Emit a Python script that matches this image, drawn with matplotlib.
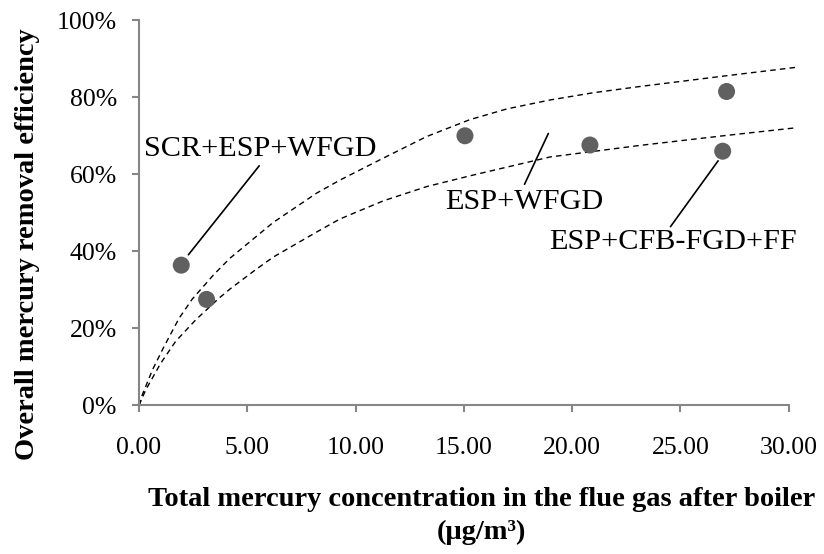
import matplotlib
matplotlib.use('Agg')
import matplotlib.pyplot as plt
from matplotlib.ticker import FuncFormatter

plt.rcParams['font.family'] = ['Liberation Serif', 'DejaVu Serif']

# measured plants: Hg in flue gas (ug/m3) vs overall removal (%)
hg_conc = [1.95, 3.12, 15.05, 20.82, 27.13, 26.95]
removal = [36.4, 27.5, 70.0, 67.6, 81.5, 66.0]

# dashed trend curves
upper_x = [0.0, 0.15, 0.62, 1.15, 1.85, 2.46, 3.46, 4.2, 6.2, 8.2, 9.28, 11.28,
           13.28, 15.28, 17.0, 18.98, 21.0, 23.13, 27.13, 30.37]
upper_y = [0.0, 2.7, 9.2, 15.2, 22.6, 27.6, 34.0, 38.2, 47.5, 55.1, 58.5, 64.2,
           69.8, 74.2, 77.0, 79.3, 81.2, 82.8, 85.6, 87.8]
lower_x = [0.0, 0.31, 1.0, 1.69, 2.62, 3.69, 4.2, 5.38, 6.2, 8.2, 9.28, 11.28,
           13.28, 15.28, 18.98, 23.13, 27.13, 30.37]
lower_y = [0.0, 4.0, 10.9, 16.6, 22.2, 27.8, 30.2, 35.2, 38.5, 45.0, 48.4, 53.1,
           56.8, 59.6, 64.5, 67.5, 70.1, 72.1]

x_ticks = [0, 5, 10, 15, 20, 25, 30]
y_ticks = [0, 20, 40, 60, 80, 100]

grey = '#868686'

fig = plt.figure(figsize=(8.24, 5.54), dpi=100)
ax = fig.add_axes([0.1687, 0.2684, 0.9572 - 0.1687, 0.9634 - 0.2684])

for xs, ys in ((upper_x, upper_y), (lower_x, lower_y)):
    ax.plot(xs, ys, color='black', lw=1.0, ls=(0, (4, 3)), clip_on=False, zorder=2)

ax.scatter(hg_conc, removal, s=150, color='#606060', edgecolors='none', zorder=3, clip_on=False)

ax.set_xlim(0, 30)
ax.set_ylim(0, 100)
ax.set_xticks(x_ticks)
ax.set_yticks(y_ticks)
ax.xaxis.set_major_formatter(FuncFormatter(lambda v, p: f'{v:.2f}'))
ax.yaxis.set_major_formatter(FuncFormatter(lambda v, p: f'{v:.0f}%'))

for side in ('top', 'right'):
    ax.spines[side].set_visible(False)
for side in ('left', 'bottom'):
    ax.spines[side].set_color(grey)
    ax.spines[side].set_linewidth(1.5)
ax.tick_params(axis='both', color=grey, width=1.5, length=5, labelsize=18.5)
ax.tick_params(axis='x', pad=18)
ax.tick_params(axis='y', pad=11)

ax.set_ylabel('Overall mercury removal efficiency', fontsize=20.5, fontweight='bold')
ax.yaxis.set_label_coords(-0.152, 0.419)
ax.set_xlabel('Total mercury concentration in the flue gas after boiler\n(μg/m³)',
              fontsize=20.5, fontweight='bold', linespacing=1.4)
ax.xaxis.set_label_coords(0.5275, -0.213)

# labels and leader lines
lbl = dict(fontsize=21.8, ha='center', va='center')
ax.text(5.59, 66.6, 'SCR+ESP+WFGD', **lbl)
ax.text(17.8, 52.8, 'ESP+WFGD', **lbl)
ax.text(24.65, 42.4, 'ESP+CFB-FGD+FF', **lbl)

leaders = [((2.28, 39.1), (5.55, 62.2)),
           ((18.9, 70.6), (17.8, 57.4)),
           ((26.74, 63.5), (24.54, 46.4))]
for tip, tail in leaders:
    ax.annotate('', xy=tip, xytext=tail,
                arrowprops=dict(arrowstyle='-', color='black', lw=1.2, shrinkA=0, shrinkB=0))

fig.savefig('out.png', dpi=100)
